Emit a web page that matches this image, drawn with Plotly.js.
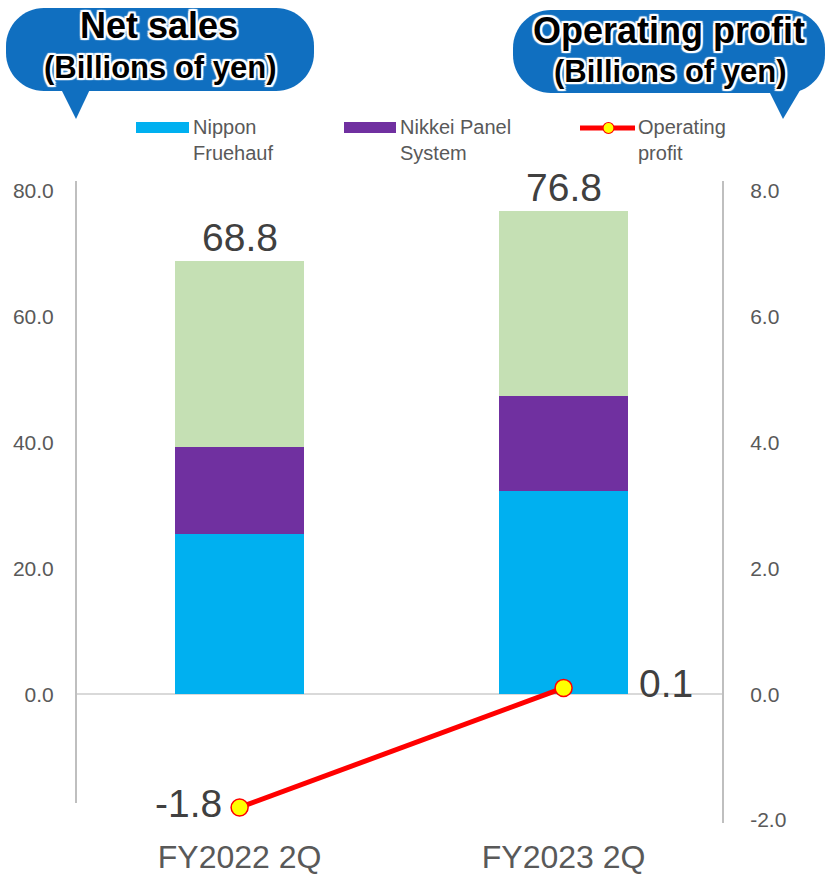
<!DOCTYPE html>
<html>
<head>
<meta charset="utf-8">
<script src="https://cdn.plot.ly/plotly-3.0.1.min.js"></script>
<style>html,body{margin:0;padding:0;background:#fff}#chart{width:828px;height:880px}</style>
</head>
<body>
<div id="chart"></div>
<script>
// ---- data ----
const categories = ["FY2022 2Q", "FY2023 2Q"];
const nipponFruehauf = [25.4, 32.3];
const nikkeiPanel = [13.9, 15.1];
const otherSales = [29.5, 29.4];
const netSalesTotal = [68.8, 76.8];
const operatingProfit = [-1.8, 0.1];
const leftTicks = [0, 20, 40, 60, 80];
const rightTicks = [-2, 0, 2, 4, 6, 8];
const seriesNames = ["Nippon<br>Fruehauf", "Nikkei Panel<br>System", "Operating<br>profit"];

// ---- layout helpers (pixel -> paper) ----
const W = 828, H = 880, L = 76, R = 723, T = 191, B = 820;
const px = x => (x - L) / (R - L);
const py = y => (B - y) / (B - T);
const FONT = "Liberation Sans, Arial, sans-serif";
const GREY = "#595959", DARK = "#404040";

function bubblePath(x0, y0, x1, y1, r) {
  const k = 0.5523 * r;
  const P = (x, y) => px(x).toFixed(5) + "," + py(y).toFixed(5);
  return "M" + P(x0 + r, y0) + " L" + P(x1 - r, y0) +
    " C" + P(x1 - r + k, y0) + " " + P(x1, y0 + r - k) + " " + P(x1, y0 + r) +
    " L" + P(x1, y1 - r) +
    " C" + P(x1, y1 - r + k) + " " + P(x1 - r + k, y1) + " " + P(x1 - r, y1) +
    " L" + P(x0 + r, y1) +
    " C" + P(x0 + r - k, y1) + " " + P(x0, y1 - r + k) + " " + P(x0, y1 - r) +
    " L" + P(x0, y0 + r) +
    " C" + P(x0, y0 + r - k) + " " + P(x0 + r - k, y0) + " " + P(x0 + r, y0) + " Z";
}
function triPath(a, b, c) {
  const P = (p) => px(p[0]).toFixed(5) + "," + py(p[1]).toFixed(5);
  return "M" + P(a) + " L" + P(b) + " L" + P(c) + " Z";
}
const BUB = "#106FC0";
const outline = "2px 2px 1px #fff, -2px -2px 1px #fff, 2px -2px 1px #fff, -2px 2px 1px #fff, 0 2px 1px #fff, 2px 0 1px #fff, 0 -2px 1px #fff, -2px 0 1px #fff";

const traces = [
  {type: "bar", x: categories, y: nipponFruehauf, name: seriesNames[0], marker: {color: "#00B0F0"}, width: 0.4, yaxis: "y", hoverinfo: "y"},
  {type: "bar", x: categories, y: nikkeiPanel, name: seriesNames[1], marker: {color: "#7030A0"}, width: 0.4, yaxis: "y", hoverinfo: "y"},
  {type: "bar", x: categories, y: otherSales, name: "Other", marker: {color: "#C5E0B4"}, width: 0.4, yaxis: "y", hoverinfo: "y"},
  {type: "scatter", mode: "lines+markers", x: categories, y: operatingProfit, name: seriesNames[2], yaxis: "y2",
   line: {color: "#FF0000", width: 5}, marker: {color: "#FFFF00", size: 17, line: {color: "#FF0000", width: 1.5}}, cliponaxis: false}
];

const shapes = [
  // axis lines
  {type: "line", xref: "paper", yref: "paper", x0: 0, x1: 0, y0: py(181), y1: py(803), line: {color: "#BFBFBF", width: 2}},
  {type: "line", xref: "paper", yref: "paper", x0: 1, x1: 1, y0: py(181), y1: py(823), line: {color: "#BFBFBF", width: 2}},
  // bubbles
  {type: "path", xref: "paper", yref: "paper", path: bubblePath(6, 8, 314, 91, 38), fillcolor: BUB, line: {width: 0}, layer: "above"},
  {type: "path", xref: "paper", yref: "paper", path: triPath([59, 85], [92, 85], [76, 119]), fillcolor: BUB, line: {width: 0}, layer: "above"},
  {type: "path", xref: "paper", yref: "paper", path: bubblePath(513, 10, 825, 93, 38), fillcolor: BUB, line: {width: 0}, layer: "above"},
  {type: "path", xref: "paper", yref: "paper", path: triPath([767, 87], [802, 87], [783, 119]), fillcolor: BUB, line: {width: 0}, layer: "above"},
  // legend swatches
  {type: "rect", xref: "paper", yref: "paper", x0: px(136), x1: px(189), y0: py(122), y1: py(133), fillcolor: "#00B0F0", line: {width: 0}},
  {type: "rect", xref: "paper", yref: "paper", x0: px(344), x1: px(396), y0: py(122), y1: py(133), fillcolor: "#7030A0", line: {width: 0}},
  {type: "line", xref: "paper", yref: "paper", x0: px(580), x1: px(635), y0: py(128), y1: py(128), line: {color: "#FF0000", width: 5}},
  {type: "circle", xref: "paper", yref: "paper", x0: px(603), x1: px(614), y0: py(122.5), y1: py(133.5), fillcolor: "#FFFF00", line: {color: "#FF0000", width: 1.2}}
];

const annotations = [
  // bubble texts
  {xref: "paper", yref: "paper", x: px(159), y: py(25), text: "Net sales", showarrow: false, xanchor: "center", yanchor: "middle",
   font: {family: FONT, size: 36, color: "#000", weight: 700, shadow: outline}},
  {xref: "paper", yref: "paper", x: px(160), y: py(67), text: "(Billions of yen)", showarrow: false, xanchor: "center", yanchor: "middle",
   font: {family: FONT, size: 31, color: "#000", weight: 700, shadow: outline}},
  {xref: "paper", yref: "paper", x: px(669), y: py(30), text: "Operating profit", showarrow: false, xanchor: "center", yanchor: "middle",
   font: {family: FONT, size: 36, color: "#000", weight: 700, shadow: outline}},
  {xref: "paper", yref: "paper", x: px(670), y: py(72), text: "(Billions of yen)", showarrow: false, xanchor: "center", yanchor: "middle",
   font: {family: FONT, size: 31, color: "#000", weight: 700, shadow: outline}},
  // legend texts
  {xref: "paper", yref: "paper", x: px(191), y: py(140), text: seriesNames[0], showarrow: false, xanchor: "left", yanchor: "middle", align: "left",
   font: {family: FONT, size: 20, color: GREY}},
  {xref: "paper", yref: "paper", x: px(398), y: py(140), text: seriesNames[1], showarrow: false, xanchor: "left", yanchor: "middle", align: "left",
   font: {family: FONT, size: 20, color: GREY}},
  {xref: "paper", yref: "paper", x: px(636), y: py(140), text: seriesNames[2], showarrow: false, xanchor: "left", yanchor: "middle", align: "left",
   font: {family: FONT, size: 20, color: GREY}}
];
// totals labels
categories.forEach((c, i) => {
  annotations.push({x: c, y: netSalesTotal[i], xref: "x", yref: "y", text: netSalesTotal[i].toFixed(1), showarrow: false,
    xanchor: "center", yanchor: "bottom", yshift: 0, font: {family: FONT, size: 39, color: DARK}});
});
// operating profit labels
annotations.push({x: categories[0], y: operatingProfit[0], xref: "x", yref: "y2", text: operatingProfit[0].toFixed(1), showarrow: false,
  xanchor: "right", yanchor: "middle", xshift: -16, yshift: 4, font: {family: FONT, size: 39, color: DARK}});
annotations.push({x: categories[1], y: operatingProfit[1], xref: "x", yref: "y2", text: operatingProfit[1].toFixed(1), showarrow: false,
  xanchor: "left", yanchor: "middle", xshift: 73, yshift: 4, font: {family: FONT, size: 39, color: DARK}});

const layout = {
  width: W, height: H,
  margin: {l: L, r: W - R, t: T, b: H - B, pad: 0},
  paper_bgcolor: "#fff", plot_bgcolor: "#fff",
  barmode: "stack", showlegend: false,
  font: {family: FONT, color: GREY},
  xaxis: {type: "category", range: [-0.505, 1.492], showgrid: false, showline: false, zeroline: false,
    ticks: "outside", ticklen: 9, tickcolor: "rgba(0,0,0,0)", tickfont: {size: 32, color: GREY, family: FONT}},
  yaxis: {range: [-20, 80], tickvals: leftTicks, ticktext: leftTicks.map(v => v.toFixed(1)), showgrid: false, showline: false,
    zeroline: true, zerolinecolor: "#D9D9D9", zerolinewidth: 2,
    ticks: "outside", ticklen: 17, tickcolor: "rgba(0,0,0,0)", tickfont: {size: 21, color: GREY, family: FONT}},
  yaxis2: {range: [-2, 8], overlaying: "y", side: "right", tickvals: rightTicks, ticktext: rightTicks.map(v => v.toFixed(1)), showgrid: false,
    showline: false, zeroline: false,
    ticks: "outside", ticklen: 22, tickcolor: "rgba(0,0,0,0)", tickfont: {size: 21, color: GREY, family: FONT}},
  shapes: shapes,
  annotations: annotations
};

Plotly.newPlot("chart", traces, layout, {displayModeBar: false, staticPlot: true});
</script>
</body>
</html>
